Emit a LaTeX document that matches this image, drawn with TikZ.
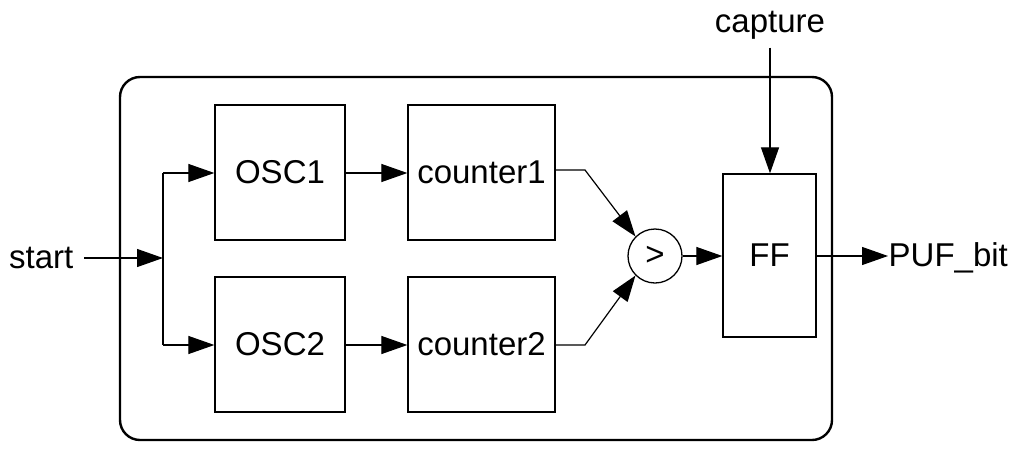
\documentclass[tikz,border=0pt]{standalone}
\usepackage{fontspec}
\setmainfont{Liberation Sans}
\usetikzlibrary{arrows.meta}
\begin{document}
\begin{tikzpicture}[x=1pt,y=-1pt,line width=1.3pt,
  lbl/.style={font=\fontsize{33}{36}\selectfont,inner sep=0pt},
  arr/.style={line width=1.2pt,-{Triangle[length=26pt,width=18pt]}},
  wire/.style={line width=1.2pt}]
\useasboundingbox (0,0) rectangle (1024,450);
\draw[line width=2.4pt,rounded corners=20pt] (120,77) rectangle (832,440);
\node[draw,minimum width=130pt,minimum height=135pt,lbl] (osc1) at (280,172.5) {OSC1};
\node[draw,minimum width=147pt,minimum height=135pt,lbl] (c1) at (481.5,172.5) {counter1};
\node[draw,minimum width=130pt,minimum height=135pt,lbl] (osc2) at (280,344.5) {OSC2};
\node[draw,minimum width=147pt,minimum height=135pt,lbl] (c2) at (481.5,344.5) {counter2};
\node[draw,circle,minimum size=54pt,lbl] (cmp) at (655,256) {>};
\node[draw,minimum width=93pt,minimum height=163pt,lbl] (ff) at (769.5,255.5) {FF};
\node[lbl,anchor=east] (start) at (74,258) {start};
\node[lbl,anchor=west] (puf) at (888,258) {PUF\_bit};
\node[lbl] (cap) at (770,25) {capture};
\coordinate (j) at (163,258);
\draw[arr] (start.east)++(10,0) -- (j);
\draw[wire] (163,173) -- (163,345);
\draw[arr] (163,173) -- (osc1.west |- 0,173);
\draw[arr] (163,345) -- (osc2.west |- 0,345);
\draw[arr] (osc1.east |- 0,173) -- (c1.west |- 0,173);
\draw[arr] (osc2.east |- 0,345) -- (c2.west |- 0,345);
\draw[arr] (c1.east |- 0,170) -- (585,170) -- (cmp.north west);
\draw[arr] (c2.east |- 0,345) -- (585,345) -- (cmp.south west);
\draw[arr] (cmp.east) -- (ff.west |- cmp.east);
\draw[arr] (ff.east |- 0,256) -- (puf.west |- 0,256);
\draw[arr] (cap.south)++(0,8) -- (ff.north -| cap);
\end{tikzpicture}
\end{document}
